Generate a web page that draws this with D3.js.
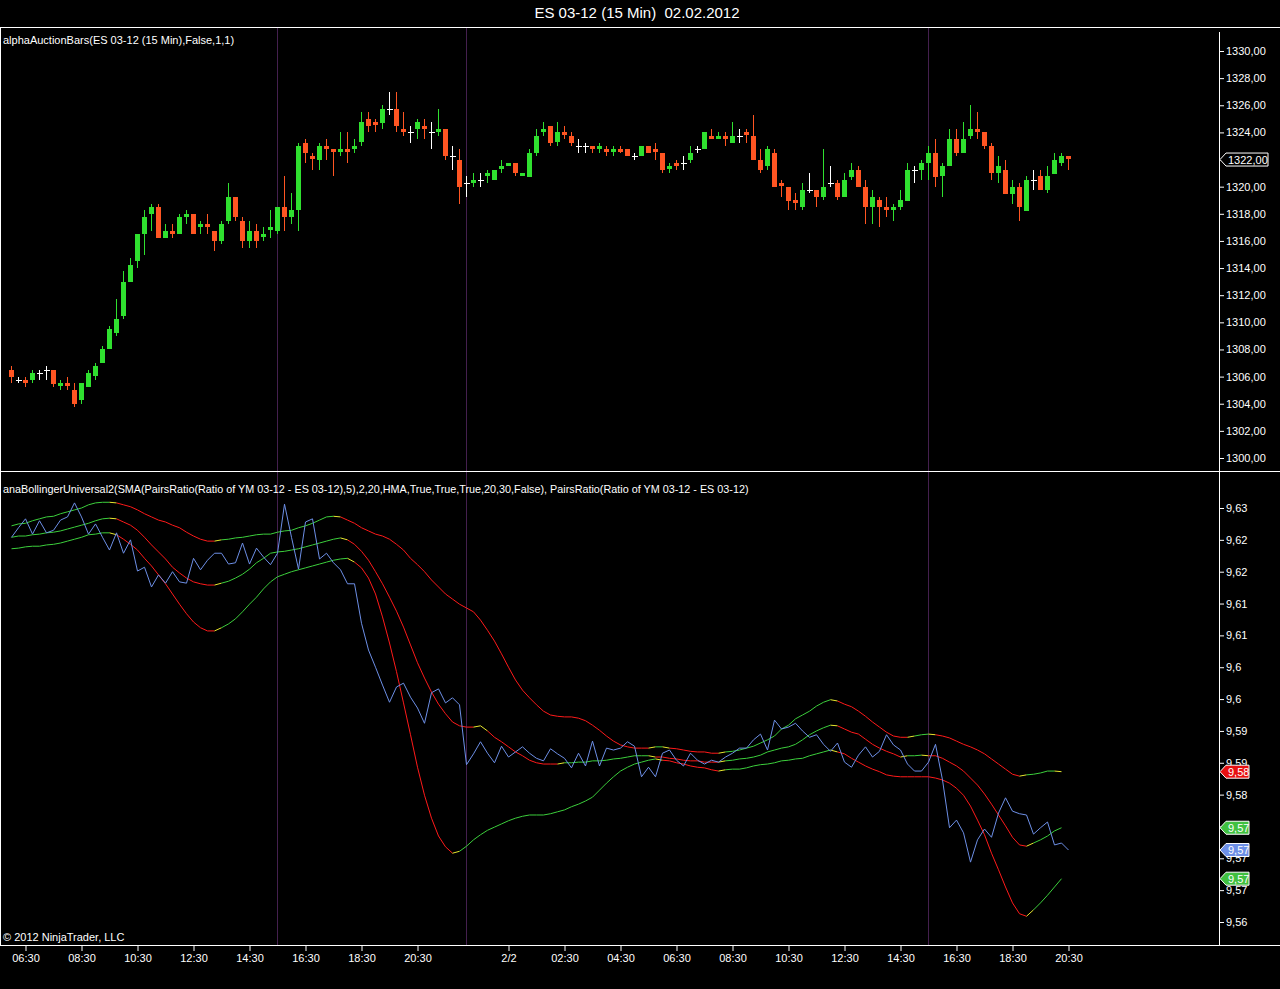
<!DOCTYPE html>
<html>
<head>
<meta charset="utf-8">
<script src="https://cdn.jsdelivr.net/npm/d3@7"></script>
<style>
    html, body { margin: 0; padding: 0; background: #000; }
    svg { display: block; }
    text { font-family: "Liberation Sans", Arial, sans-serif; font-size: 11px; fill: #fff; white-space: pre; }
</style>
</head>
<body>
<svg id="chart" width="1280" height="989"></svg>
<script>
// ES 03-12, 15 min bars
const barOpen = [
    1306.5,1305.75,1305.75,1305.75,1306.25,1306.5,1306.5,1305.25,1305.5,1305.0,
    1304.25,1305.25,1306.0,1307.0,1308.0,1309.25,1310.5,1313.0,1314.5,1316.5,
    1318.0,1318.5,1316.25,1316.75,1316.5,1317.75,1318.0,1317.0,1317.25,1316.75,
    1316.0,1317.5,1319.25,1317.5,1316.0,1316.75,1316.25,1316.75,1316.75,1318.5,
    1317.75,1318.25,1323.25,1322.25,1322.0,1323.0,1322.75,1322.5,1322.75,1322.75,
    1323.25,1325.0,1324.75,1324.75,1325.75,1325.75,1324.25,1324.0,1324.25,1324.5,
    1324.0,1324.0,1324.25,1322.25,1322.0,1320.25,1320.25,1320.5,1320.75,1320.5,
    1321.25,1321.5,1321.75,1320.75,1320.75,1322.5,1324.0,1324.5,1323.25,1324.0,
    1323.75,1323.0,1323.0,1323.0,1322.75,1322.75,1322.5,1322.75,1322.75,1322.25,
    1322.25,1323.0,1322.75,1322.5,1321.25,1321.75,1321.75,1322.0,1322.75,1322.75,
    1323.75,1323.5,1323.75,1323.25,1323.75,1324.0,1323.75,1322.0,1321.5,1322.5,
    1320.25,1320.0,1319.0,1318.5,1319.75,1319.75,1319.25,1320.25,1320.25,1319.25,
    1320.75,1321.25,1320.0,1318.5,1319.0,1318.5,1318.25,1318.5,1319.0,1321.25,
    1321.25,1321.75,1322.5,1320.75,1321.5,1323.5,1322.5,1323.75,1324.25,1324.0,
    1323.0,1321.0,1321.25,1319.5,1320.0,1318.25,1320.5,1320.75,1319.75,1321.0,
    1321.75,1322.25
];
const barHigh = [
    1306.75,1306.0,1306.0,1306.5,1306.5,1306.75,1306.5,1305.75,1306.0,1305.5,
    1305.5,1306.5,1307.0,1308.25,1309.75,1311.75,1313.75,1314.75,1316.5,1318.25,
    1318.75,1318.75,1317.25,1317.25,1318.0,1318.25,1318.0,1317.5,1318.0,1316.75,
    1317.5,1320.25,1319.25,1317.75,1317.5,1317.25,1317.0,1318.25,1318.5,1320.75,
    1319.5,1323.25,1323.5,1322.5,1323.25,1323.5,1322.75,1324.0,1324.0,1323.5,
    1325.5,1325.5,1325.0,1326.0,1327.0,1327.0,1325.5,1324.5,1325.0,1325.0,
    1324.75,1325.75,1324.25,1323.0,1322.75,1320.75,1321.0,1321.0,1321.25,1321.25,
    1322.0,1321.75,1321.75,1321.0,1322.75,1324.25,1324.75,1324.5,1324.75,1324.5,
    1324.0,1323.5,1323.25,1323.0,1323.25,1323.0,1323.0,1323.0,1322.75,1322.5,
    1323.0,1323.0,1323.25,1322.5,1321.75,1322.0,1322.25,1323.0,1323.0,1324.0,
    1324.25,1324.0,1324.0,1324.75,1324.25,1324.25,1325.25,1322.75,1323.0,1322.75,
    1320.5,1320.0,1319.5,1320.25,1321.0,1319.75,1322.75,1321.5,1320.5,1321.0,
    1321.75,1321.5,1320.5,1319.75,1319.25,1319.25,1318.75,1319.75,1321.75,1321.5,
    1322.0,1323.0,1323.5,1321.75,1324.25,1324.25,1324.75,1326.0,1325.5,1324.0,
    1323.25,1322.25,1322.0,1320.5,1320.25,1320.75,1321.25,1321.25,1321.5,1322.5,
    1322.5,1322.25
];
const barLow = [
    1305.5,1305.5,1305.25,1305.5,1305.75,1305.75,1305.25,1305.0,1305.0,1303.75,
    1304.0,1305.25,1305.75,1307.0,1308.0,1309.0,1310.25,1313.0,1314.0,1315.0,
    1316.75,1316.25,1316.25,1316.25,1316.5,1317.25,1316.5,1316.5,1316.5,1315.25,
    1315.75,1317.25,1317.5,1315.5,1315.5,1315.5,1316.0,1316.25,1316.5,1316.75,
    1317.25,1316.75,1321.75,1321.25,1321.25,1322.0,1320.75,1322.25,1321.75,1322.5,
    1323.0,1324.0,1324.0,1324.25,1325.25,1324.0,1323.75,1323.25,1323.5,1323.5,
    1322.75,1323.75,1322.0,1321.25,1318.75,1319.25,1320.0,1320.0,1320.25,1320.5,
    1321.0,1321.5,1320.75,1320.75,1320.75,1322.25,1323.75,1323.0,1323.0,1323.5,
    1323.0,1322.5,1322.5,1322.5,1322.5,1322.25,1322.25,1322.5,1322.25,1322.0,
    1322.25,1322.5,1322.0,1321.0,1321.0,1321.25,1321.25,1321.75,1322.5,1322.75,
    1323.5,1323.5,1323.0,1323.25,1323.25,1323.25,1322.0,1321.0,1321.25,1320.0,
    1319.25,1318.25,1318.25,1318.25,1319.5,1318.5,1319.0,1320.0,1319.0,1319.25,
    1320.5,1320.0,1317.25,1317.25,1317.0,1317.75,1317.5,1318.25,1319.0,1320.25,
    1320.5,1320.5,1320.0,1319.25,1321.5,1322.25,1322.5,1323.5,1323.5,1322.75,
    1320.5,1320.25,1319.5,1318.75,1317.5,1318.25,1319.75,1319.75,1319.5,1321.0,
    1321.5,1321.25
];
const barClose = [
    1306.0,1305.75,1305.5,1306.25,1306.25,1306.5,1305.5,1305.5,1305.25,1304.0,
    1305.5,1306.25,1306.75,1308.0,1309.5,1310.25,1313.0,1314.25,1316.5,1317.75,
    1318.5,1316.25,1316.75,1316.5,1317.75,1318.0,1316.5,1317.25,1317.0,1316.0,
    1317.25,1319.25,1317.75,1316.0,1316.75,1316.0,1316.5,1317.0,1318.5,1317.75,
    1318.25,1323.0,1322.5,1322.0,1323.0,1322.75,1322.5,1322.75,1322.5,1323.0,
    1324.75,1324.5,1324.5,1325.75,1325.75,1324.5,1324.0,1324.0,1324.75,1324.25,
    1324.0,1324.25,1322.25,1322.25,1320.0,1320.25,1320.5,1320.5,1321.0,1321.25,
    1321.5,1321.75,1321.0,1321.0,1322.5,1323.75,1324.25,1323.25,1324.0,1323.75,
    1323.25,1323.0,1323.0,1322.75,1323.0,1322.5,1322.75,1322.5,1322.25,1322.25,
    1323.0,1322.5,1322.5,1321.25,1321.5,1321.5,1321.75,1322.5,1322.75,1324.0,
    1323.5,1323.75,1323.5,1323.75,1323.75,1323.75,1322.0,1321.25,1322.75,1320.0,
    1320.0,1319.0,1318.75,1319.75,1319.75,1319.25,1320.0,1320.25,1319.25,1320.5,
    1321.25,1320.0,1318.5,1319.25,1318.5,1318.25,1318.5,1319.0,1321.25,1321.25,
    1321.75,1322.5,1320.75,1321.5,1323.5,1322.5,1323.5,1324.25,1324.0,1323.0,
    1321.0,1321.5,1319.5,1320.0,1318.5,1320.5,1320.5,1319.75,1320.75,1322.0,
    1322.25,1322.0
];

// PairsRatio YM/ES and its Bollinger envelope
const pairsRatio = [
    9.6254,9.6269,9.6283,9.6259,9.6280,9.6261,9.6265,9.6281,9.6286,9.6308,
    9.6286,9.6259,9.6275,9.6254,9.6234,9.6261,9.6229,9.6250,9.6201,9.6207,
    9.6176,9.6195,9.6182,9.6200,9.6184,9.6182,9.6221,9.6203,9.6218,9.6229,
    9.6229,9.6212,9.6214,9.6245,9.6212,9.6237,9.6223,9.6211,9.6229,9.6306,
    9.6254,9.6204,9.6278,9.6283,9.6220,9.6229,9.6214,9.6203,9.6181,9.6181,
    9.6119,9.6077,9.6050,9.6022,9.5995,9.6019,9.6025,9.6003,9.5986,9.5962,
    9.6010,9.6016,9.5994,9.6002,9.5991,9.5897,9.5914,9.5933,9.5915,9.5900,
    9.5926,9.5909,9.5917,9.5925,9.5915,9.5907,9.5903,9.5922,9.5914,9.5907,
    9.5892,9.5915,9.5895,9.5934,9.5895,9.5923,9.5920,9.5923,9.5933,9.5926,
    9.5878,9.5893,9.5878,9.5915,9.5920,9.5904,9.5895,9.5915,9.5904,9.5898,
    9.5904,9.5901,9.5909,9.5915,9.5923,9.5923,9.5936,9.5945,9.5920,9.5967,
    9.5953,9.5956,9.5962,9.5950,9.5940,9.5944,9.5929,9.5918,9.5931,9.5901,
    9.5893,9.5912,9.5925,9.5909,9.5918,9.5944,9.5928,9.5920,9.5898,9.5887,
    9.5887,9.5901,9.5929,9.5873,9.5798,9.5810,9.5790,9.5744,9.5779,9.5796,
    9.5783,9.5821,9.5845,9.5824,9.5820,9.5818,9.5788,9.5798,9.5807,9.5771,
    9.5774,9.5763
];
const bandUpper = [
    9.6272,9.6275,9.6276,9.6280,9.6283,9.6286,9.6287,9.6291,9.6294,9.6297,
    9.6300,9.6305,9.6308,9.6309,9.6309,9.6308,9.6305,9.6302,9.6297,9.6291,
    9.6286,9.6281,9.6278,9.6273,9.6269,9.6262,9.6256,9.6251,9.6248,9.6248,
    9.6250,9.6251,9.6253,9.6254,9.6256,9.6258,9.6259,9.6259,9.6262,9.6264,
    9.6265,9.6269,9.6272,9.6276,9.6281,9.6286,9.6287,9.6286,9.6281,9.6276,
    9.6269,9.6264,9.6259,9.6256,9.6251,9.6243,9.6234,9.6221,9.6211,9.6200,
    9.6187,9.6176,9.6165,9.6157,9.6149,9.6143,9.6137,9.6124,9.6108,9.6091,
    9.6071,9.6050,9.6030,9.6014,9.6002,9.5991,9.5981,9.5975,9.5973,9.5972,
    9.5972,9.5970,9.5966,9.5959,9.5951,9.5942,9.5934,9.5928,9.5925,9.5923,
    9.5923,9.5923,9.5925,9.5925,9.5923,9.5922,9.5920,9.5918,9.5917,9.5917,
    9.5915,9.5915,9.5917,9.5918,9.5920,9.5923,9.5926,9.5931,9.5936,9.5942,
    9.5953,9.5959,9.5969,9.5975,9.5981,9.5989,9.5995,9.5999,9.5997,9.5992,
    9.5988,9.5981,9.5973,9.5964,9.5956,9.5948,9.5942,9.5940,9.5940,9.5942,
    9.5944,9.5945,9.5944,9.5942,9.5939,9.5934,9.5929,9.5925,9.5920,9.5914,
    9.5906,9.5898,9.5890,9.5882,9.5879,9.5881,9.5882,9.5884,9.5887,9.5887,
    9.5886
];
const bandMiddle = [
    9.6254,9.6256,9.6256,9.6258,9.6259,9.6261,9.6262,9.6264,9.6267,9.6270,
    9.6273,9.6276,9.6280,9.6283,9.6284,9.6283,9.6278,9.6273,9.6265,9.6254,
    9.6242,9.6231,9.6220,9.6207,9.6198,9.6190,9.6184,9.6181,9.6179,9.6179,
    9.6182,9.6185,9.6190,9.6196,9.6204,9.6214,9.6221,9.6229,9.6231,9.6232,
    9.6234,9.6236,9.6239,9.6242,9.6245,9.6248,9.6251,9.6253,9.6250,9.6243,
    9.6232,9.6218,9.6200,9.6181,9.6160,9.6138,9.6113,9.6085,9.6057,9.6033,
    9.6011,9.5992,9.5977,9.5964,9.5958,9.5956,9.5956,9.5958,9.5950,9.5940,
    9.5933,9.5925,9.5917,9.5911,9.5904,9.5900,9.5898,9.5898,9.5898,9.5900,
    9.5900,9.5901,9.5901,9.5903,9.5903,9.5904,9.5906,9.5907,9.5909,9.5911,
    9.5911,9.5911,9.5909,9.5909,9.5907,9.5906,9.5904,9.5903,9.5903,9.5901,
    9.5901,9.5901,9.5903,9.5904,9.5906,9.5907,9.5909,9.5912,9.5917,9.5920,
    9.5923,9.5925,9.5929,9.5936,9.5944,9.5950,9.5955,9.5959,9.5958,9.5953,
    9.5948,9.5945,9.5937,9.5929,9.5923,9.5918,9.5914,9.5909,9.5911,9.5911,
    9.5912,9.5911,9.5911,9.5907,9.5901,9.5895,9.5887,9.5876,9.5865,9.5851,
    9.5835,9.5818,9.5801,9.5783,9.5771,9.5769,9.5774,9.5779,9.5785,9.5793,
    9.5798
];
const bandLower = [
    9.6236,9.6237,9.6239,9.6240,9.6240,9.6242,9.6243,9.6245,9.6248,9.6251,
    9.6254,9.6258,9.6259,9.6261,9.6261,9.6258,9.6251,9.6243,9.6234,9.6221,
    9.6209,9.6195,9.6181,9.6165,9.6149,9.6134,9.6121,9.6112,9.6107,9.6107,
    9.6112,9.6118,9.6126,9.6137,9.6149,9.6160,9.6173,9.6184,9.6192,9.6196,
    9.6200,9.6203,9.6206,9.6209,9.6212,9.6215,9.6218,9.6220,9.6221,9.6215,
    9.6206,9.6190,9.6165,9.6129,9.6088,9.6043,9.5994,9.5944,9.5893,9.5849,
    9.5813,9.5785,9.5768,9.5758,9.5761,9.5769,9.5779,9.5787,9.5794,9.5799,
    9.5804,9.5809,9.5813,9.5816,9.5818,9.5818,9.5818,9.5820,9.5823,9.5826,
    9.5831,9.5835,9.5840,9.5846,9.5857,9.5868,9.5878,9.5887,9.5893,9.5898,
    9.5901,9.5904,9.5906,9.5904,9.5903,9.5900,9.5898,9.5895,9.5893,9.5892,
    9.5889,9.5887,9.5889,9.5890,9.5890,9.5892,9.5895,9.5897,9.5898,9.5900,
    9.5903,9.5904,9.5906,9.5907,9.5911,9.5914,9.5917,9.5920,9.5917,9.5914,
    9.5907,9.5901,9.5895,9.5890,9.5886,9.5881,9.5879,9.5878,9.5878,9.5878,
    9.5878,9.5878,9.5876,9.5873,9.5868,9.5860,9.5849,9.5832,9.5810,9.5787,
    9.5758,9.5732,9.5705,9.5680,9.5663,9.5659,9.5669,9.5680,9.5692,9.5705,
    9.5718
];

// axes
const priceTicks = [1330,1328,1326,1324,1322,1320,1318,1316,1314,1312,1310,1308,1306,1304,1302,1300];
const ratioTicks = [9.630,9.625,9.620,9.615,9.610,9.605,9.600,9.595,9.590,9.585,9.580,9.575,9.570,9.565];
const ratioTickLabels = ["9,63","9,62","9,62","9,61","9,61","9,6","9,6","9,59","9,59","9,58","9,58","9,57","9,57","9,56"];
const timeTickBars = [2,10,18,26,34,42,50,58,71,79,87,95,103,111,119,127,135,143,151];
const timeTickLabels = ["06:30","08:30","10:30","12:30","14:30","16:30","18:30","20:30","2/2",
    "02:30","04:30","06:30","08:30","10:30","12:30","14:30","16:30","18:30","20:30"];
const sessionBars = [38, 65, 131];

function NinjaChart() {

    let self = this;

    self.initialize = function(conf) {
        self.svg    = d3.select(conf.el);
        self.width  = conf.width;
        self.height = conf.height;
        self.axisX  = 1219;

        self.upColor   = "#2fe02f";
        self.downColor = "#ff5522";
        self.bandUp    = "#3ccf3c";
        self.bandDown  = "#ff1a1a";
        self.bandTurn  = "#e6e62e";
        self.ratioColor = "#6d8fe6";

        self.x      = d3.scaleLinear().domain([0, barClose.length - 1]).range([11.5, 1068.5]);
        self.yPrice = d3.scaleLinear().domain([1300, 1330]).range([458, 51]);
        self.yRatio = d3.scaleLinear().domain([9.565, 9.630]).range([922, 508]);

        self.priceFmt = d3.formatLocale({decimal: ",", thousands: ".", grouping: [3], currency: ["", ""]}).format(".2f");

        self.render();
    };

    self.render = function() {
        self.svg.append("rect").attr("width", self.width).attr("height", self.height).attr("fill", "#000");
        self.renderSessions();
        self.renderFrame();
        self.renderBars();
        self.renderBands();
        self.renderAxes();
        self.renderMarkers();
    };

    self.renderSessions = function() {
        self.svg.append("g").selectAll("line")
            .data(sessionBars)
            .enter().append("line")
            .attr("x1", d => self.x(d)).attr("x2", d => self.x(d))
            .attr("y1", 28).attr("y2", 945)
            .attr("stroke", "#44204e").attr("stroke-width", 1);
    };

    self.renderFrame = function() {
        let g = self.svg.append("g").attr("stroke", "#fff").attr("stroke-width", 1).attr("shape-rendering", "crispEdges");
        [27.5, 471.5, 945.5].forEach(y => {
            g.append("line").attr("x1", 0).attr("x2", self.width).attr("y1", y).attr("y2", y);
        });
        g.append("line").attr("x1", 0.5).attr("x2", 0.5).attr("y1", 27).attr("y2", 946);
        g.append("line").attr("x1", self.axisX + 0.5).attr("x2", self.axisX + 0.5).attr("y1", 32).attr("y2", 946);

        self.svg.append("text").attr("x", 637).attr("y", 18).attr("text-anchor", "middle")
            .style("font-size", "15px").text("ES 03-12 (15 Min)  02.02.2012");
        self.svg.append("text").attr("x", 3).attr("y", 44)
            .text("alphaAuctionBars(ES 03-12 (15 Min),False,1,1)");
        self.svg.append("text").attr("x", 3).attr("y", 493).style("font-size", "10.8px")
            .text("anaBollingerUniversal2(SMA(PairsRatio(Ratio of YM 03-12 - ES 03-12),5),2,20,HMA,True,True,True,20,30,False), PairsRatio(Ratio of YM 03-12 - ES 03-12)");
        self.svg.append("text").attr("x", 3).attr("y", 941).text("\u00a9 2012 NinjaTrader, LLC");
    };

    self.renderBars = function() {
        let bars = barClose.map((c, i) => ({i: i, o: barOpen[i], h: barHigh[i], l: barLow[i], c: c}));
        let colorOf = d => d.c > d.o ? self.upColor : (d.c < d.o ? self.downColor : "#fff");

        let g = self.svg.append("g").attr("shape-rendering", "crispEdges");
        let bar = g.selectAll("g.bar").data(bars).enter().append("g").attr("class", "bar");

        bar.append("line")
            .attr("x1", d => self.x(d.i)).attr("x2", d => self.x(d.i))
            .attr("y1", d => Math.round(self.yPrice(d.h))).attr("y2", d => Math.round(self.yPrice(d.l)))
            .attr("stroke", colorOf);

        bar.filter(d => d.c !== d.o).append("rect")
            .attr("x", d => self.x(d.i) - 2.5)
            .attr("width", 5)
            .attr("y", d => Math.round(self.yPrice(Math.max(d.o, d.c))))
            .attr("height", d => Math.max(2, Math.round(self.yPrice(Math.min(d.o, d.c)) - self.yPrice(Math.max(d.o, d.c)))))
            .attr("fill", colorOf);

        bar.filter(d => d.c === d.o).append("line")
            .attr("x1", d => self.x(d.i) - 2.5).attr("x2", d => self.x(d.i) + 3)
            .attr("y1", d => Math.round(self.yPrice(d.o)) + 0.5).attr("y2", d => Math.round(self.yPrice(d.o)) + 0.5)
            .attr("stroke", "#fff");
    };

    // band segments turn green when rising, red when falling, yellow where the slope flips
    self.bandSegments = function(values) {
        let segs = [], dir = 0;
        for (let i = 1; i < values.length; i++) {
            let d = Math.sign(values[i] - values[i - 1]) || dir;
            let color = d > 0 ? self.bandUp : self.bandDown;
            if (dir !== 0 && d !== dir) color = self.bandTurn;
            segs.push({i: i, a: values[i - 1], b: values[i], color: color, dir: d});
            dir = d;
        }
        return segs;
    };

    self.renderBands = function() {
        let g = self.svg.append("g");
        [bandUpper, bandMiddle, bandLower].forEach(band => {
            g.append("g").selectAll("line")
                .data(self.bandSegments(band))
                .enter().append("line")
                .attr("x1", d => self.x(d.i - 1)).attr("x2", d => self.x(d.i))
                .attr("y1", d => self.yRatio(d.a)).attr("y2", d => self.yRatio(d.b))
                .attr("stroke", d => d.color).attr("stroke-width", 1);
        });

        let line = d3.line().x((d, i) => self.x(i)).y(d => self.yRatio(d));
        g.append("path").datum(pairsRatio)
            .attr("d", line).attr("fill", "none")
            .attr("stroke", self.ratioColor).attr("stroke-width", 1);
    };

    self.renderAxes = function() {
        let priceAxis = d3.axisRight(self.yPrice).tickValues(priceTicks).tickSize(5).tickPadding(2).tickFormat(self.priceFmt);
        let ratioAxis = d3.axisRight(self.yRatio).tickValues(ratioTicks).tickSize(5).tickPadding(2)
            .tickFormat((d, i) => ratioTickLabels[i]);
        let timeAxis = d3.axisBottom(self.x).tickValues(timeTickBars).tickSize(6).tickPadding(3)
            .tickFormat((d, i) => timeTickLabels[i]);

        [[priceAxis, `translate(${self.axisX},0)`], [ratioAxis, `translate(${self.axisX},0)`],
         [timeAxis, "translate(0,945)"]].forEach(([axis, tr]) => {
            let g = self.svg.append("g").attr("transform", tr).call(axis);
            g.select(".domain").remove();
            g.selectAll(".tick line").attr("stroke", "#fff");
            g.selectAll(".tick text").attr("fill", "#fff")
                .style("font-family", "\"Liberation Sans\", Arial, sans-serif").style("font-size", "11px");
        });
    };

    self.truncLabel = function(v) {
        let t = Math.floor(v * 100 + 1e-6) / 100;
        return String(+t.toFixed(2)).replace(".", ",");
    };

    self.marker = function(y, fill, textFill, label, right) {
        let tip = self.axisX + 1;
        let g = self.svg.append("g");
        g.append("path")
            .attr("d", `M${tip},${y} L${tip + 6},${y - 6.5} H${right} V${y + 6.5} H${tip + 6} Z`)
            .attr("fill", fill).attr("stroke", "#fff").attr("stroke-width", 1);
        g.append("text").attr("x", tip + 8).attr("y", y + 4).attr("fill", textFill).text(label);
    };

    self.renderMarkers = function() {
        let last = barClose.length - 1;
        self.marker(self.yPrice(barClose[last]), "#000", "#fff", self.priceFmt(barClose[last]), 1268);

        let n = bandUpper.length - 1;
        [bandUpper, bandMiddle, bandLower].forEach(band => {
            let falling = self.bandSegments(band).pop().dir < 0;
            self.marker(self.yRatio(band[n]), falling ? "#e81010" : "#40c040",
                falling ? "#fff" : "#000", self.truncLabel(band[n]), 1249);
        });
        self.marker(self.yRatio(pairsRatio[last]), self.ratioColor, "#001040", self.truncLabel(pairsRatio[last]), 1249);
    };
}

let chart = new NinjaChart();
chart.initialize({el: "#chart", width: 1280, height: 989});
</script>
</body>
</html>
